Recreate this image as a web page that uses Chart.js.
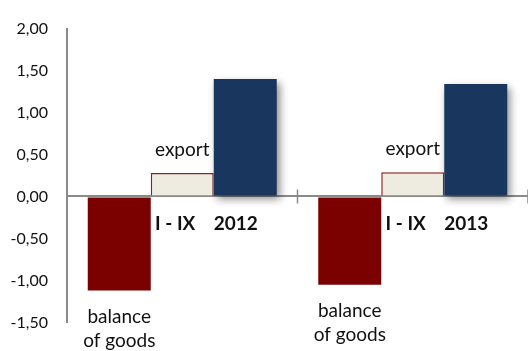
<!DOCTYPE html>
<html>
<head>
<meta charset="utf-8">
<script src="https://cdn.jsdelivr.net/npm/chart.js@4/dist/chart.umd.min.js"></script>
<style>
    html, body { margin: 0; padding: 0; background: #fff; }
    canvas { display: block; }
</style>
</head>
<body>
<canvas id="tradeChart" width="528" height="351"></canvas>
<script>
const periods = ["2012", "2013"];
const periodPrefix = "I - IX";
const balance = [-1.12, -1.05];
const exports = [0.28, 0.29];
const imports = [1.40, 1.34];
const yTicks = { min: -1.5, max: 2, step: 0.5 };

const FONT = "Lato";
const AXIS_GREY = "#8a8a8a";

// text annotations placed next to the bars
const barLabels = {
    id: 'barLabels',
    afterDatasetsDraw(chart) {
        const ctx = chart.ctx;
        const balMeta = chart.getDatasetMeta(0);
        const expMeta = chart.getDatasetMeta(1);
        const impMeta = chart.getDatasetMeta(2);
        ctx.save();
        ctx.fillStyle = "#111";
        periods.forEach((year, i) => {
            const bal = balMeta.data[i];
            const exp = expMeta.data[i];
            const imp = impMeta.data[i];

            ctx.font = "19px " + FONT;
            ctx.textAlign = "center";
            ctx.textBaseline = "middle";
            ctx.fillText("export", exp.x, exp.y - 23);
            ctx.fillText("balance", bal.x, bal.y + 26);
            ctx.fillText("of goods", bal.x, bal.y + 50);

            const zeroY = exp.base;
            ctx.font = "bold 19px " + FONT;
            ctx.textAlign = "right";
            ctx.fillText(periodPrefix, exp.x + 13, zeroY + 28);
            ctx.textAlign = "left";
            ctx.fillText(year, imp.x - imp.width / 2, zeroY + 28);
        });
        ctx.restore();
    }
};

// zero line tick marks at the category boundaries, crossing both sides
const crossTicks = {
    id: 'crossTicks',
    afterDatasetsDraw(chart) {
        const { ctx, scales: { x, y } } = chart;
        const zeroY = y.getPixelForValue(0);
        ctx.save();
        ctx.strokeStyle = AXIS_GREY;
        ctx.lineWidth = 1.5;
        for (let i = 1; i <= periods.length; i++) {
            const px = x.getPixelForValue(i - 0.5);
            ctx.beginPath();
            ctx.moveTo(px, zeroY - 7);
            ctx.lineTo(px, zeroY + 7);
            ctx.stroke();
        }
        ctx.restore();
    }
};

// soft drop shadow under the import bars
const importShadow = {
    id: 'importShadow',
    beforeDatasetDraw(chart, args) {
        if (args.index !== 2) return;
        const ctx = chart.ctx;
        ctx.save();
        ctx.shadowColor = "rgba(0,0,0,0.45)";
        ctx.shadowBlur = 8;
        ctx.shadowOffsetX = 3;
        ctx.shadowOffsetY = 4;
    },
    afterDatasetDraw(chart, args) {
        if (args.index !== 2) return;
        chart.ctx.restore();
    }
};

new Chart(document.getElementById('tradeChart'), {
    type: 'bar',
    data: {
        labels: periods.map(p => periodPrefix + " " + p),
        datasets: [
            {
                label: "balance of goods",
                data: balance,
                backgroundColor: "#7b0000",
                borderWidth: 0
            },
            {
                label: "export",
                data: exports,
                backgroundColor: "#eeebe0",
                borderColor: "#8e1f1f",
                borderWidth: 1.5
            },
            {
                label: "import",
                data: imports,
                backgroundColor: "#19375e",
                borderWidth: 0
            }
        ]
    },
    options: {
        responsive: false,
        animation: false,
        layout: { padding: { top: 23, bottom: 28, left: 0, right: 0 } },
        plugins: {
            legend: { display: false },
            tooltip: { enabled: false }
        },
        datasets: {
            bar: { categoryPercentage: 0.82, barPercentage: 1 }
        },
        scales: {
            x: {
                display: false,
                offset: true
            },
            y: {
                min: yTicks.min,
                max: yTicks.max,
                afterFit(scale) { scale.width = 67; },
                ticks: {
                    stepSize: yTicks.step,
                    padding: 19,
                    color: "#111",
                    font: { family: FONT, size: 16 },
                    callback: v => v.toFixed(2).replace('.', ',')
                },
                border: { color: AXIS_GREY, width: 2 },
                grid: {
                    drawTicks: false,
                    lineWidth: 2,
                    color: ctx => ctx.tick && ctx.tick.value === 0 ? AXIS_GREY : "rgba(0,0,0,0)"
                }
            }
        }
    },
    plugins: [importShadow, barLabels, crossTicks]
});
</script>
</body>
</html>
